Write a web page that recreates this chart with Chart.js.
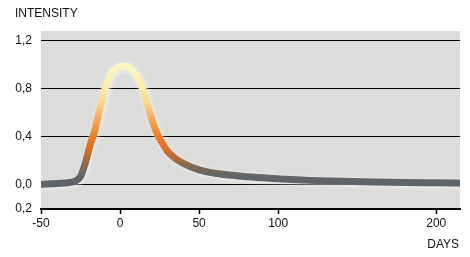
<!DOCTYPE html>
<html><head><meta charset="utf-8">
<script src="https://cdn.jsdelivr.net/npm/chart.js@4/dist/chart.umd.min.js"></script>
<style>html,body{margin:0;padding:0;background:#fff}#wrap{width:470px;height:257px;position:relative}</style>
</head><body><div id="wrap"><canvas id="c" width="470" height="257"></canvas></div>
<script>
const days = [-50,-40,-32,-28,-25,-22,-19,-16,-13,-10,-7,-4,0,3,6,9,12,15,18,21,24,27,30,35,40,50,60,75,90,105,120,140,160,180,200,215];
const intensity = [0.005,0.012,0.02,0.035,0.07,0.18,0.33,0.45,0.62,0.78,0.89,0.955,0.985,0.99,0.975,0.93,0.88,0.77,0.64,0.51,0.41,0.34,0.28,0.22,0.18,0.125,0.097,0.075,0.06,0.047,0.038,0.03,0.024,0.02,0.018,0.016];
const xTicks = [-50,0,50,100,200];
const yTicks = [-0.2,0,0.4,0.8,1.2];
const yLabels = {"-0.2":"0,2","0":"0,0","0.4":"0,4","0.8":"0,8","1.2":"1,2"};
const yTitle = "INTENSITY";
const xTitle = "DAYS";

const FONT = "'Liberation Sans', Arial, sans-serif";

const bgPlugin = {
  id:'bg',
  beforeDraw(chart){
    const {ctx, chartArea:a} = chart;
    ctx.save();
    ctx.fillStyle = '#dcdddb';
    ctx.fillRect(a.left, a.top, a.right-a.left, a.bottom-a.top);
    ctx.restore();
  },
  beforeDatasetDraw(chart){
    chart.ctx.save();
    chart.ctx.shadowColor = 'rgba(255,255,255,0.7)';
    chart.ctx.shadowBlur = 4;
    chart.ctx.shadowOffsetX = 1;
    chart.ctx.shadowOffsetY = 1;
  },
  afterDatasetDraw(chart){ chart.ctx.restore(); },
  afterDraw(chart){
    const ctx = chart.ctx;
    ctx.save();
    ctx.fillStyle = '#111';
    ctx.font = '12px ' + FONT;
    ctx.textBaseline = 'middle';
    ctx.textAlign = 'left';
    ctx.fillText(yTitle, 15, 14);
    ctx.textAlign = 'right';
    ctx.fillText(xTitle, 459, 245);
    ctx.restore();
  }
};

function grad(context){
  const chart = context.chart;
  const {ctx, chartArea} = chart;
  if(!chartArea) return '#5f676c';
  const y = chart.scales.y;
  const g = ctx.createLinearGradient(0, y.getPixelForValue(0), 0, y.getPixelForValue(1));
  g.addColorStop(0.0, '#5c656b');
  g.addColorStop(0.07, '#60666a');
  g.addColorStop(0.17, '#8a6a4c');
  g.addColorStop(0.3, '#dc7028');
  g.addColorStop(0.4, '#ef7d24');
  g.addColorStop(0.55, '#f4aa5c');
  g.addColorStop(0.68, '#f8d690');
  g.addColorStop(0.82, '#fbeeac');
  g.addColorStop(1.0, '#fcf5c4');
  return g;
}

new Chart(document.getElementById('c'), {
  type:'line',
  data:{ datasets:[{
    data: days.map((d,i)=>({x:d, y:intensity[i]})),
    borderColor: grad,
    borderWidth: 7,
    pointRadius: 0,
    cubicInterpolationMode: 'monotone',
    borderCapStyle: 'butt',
    fill:false
  }]},
  options:{
    responsive:false,
    animation:false,
    devicePixelRatio:1,
    layout:{padding:{top:31,right:10,left:0,bottom:0}},
    plugins:{legend:{display:false},tooltip:{enabled:false}},
    scales:{
      x:{
        type:'linear', min:-50, max:215,
        afterBuildTicks(s){ s.ticks = xTicks.map(v=>({value:v})); },
        afterFit(s){ s.height = 48; },
        border:{display:true, color:'#000', width:2},
        grid:{drawOnChartArea:false, drawTicks:true, tickLength:5, tickColor:'#000', tickWidth:1.5},
        ticks:{color:'#111', font:{family:FONT, size:12}, padding:2, maxRotation:0, autoSkip:false}
      },
      y:{
        min:-0.2, max:1.28,
        afterBuildTicks(s){ s.ticks = yTicks.map(v=>({value:v})); },
        afterFit(s){ s.width = 41; },
        border:{display:false},
        grid:{color:'#000', lineWidth:1, drawTicks:false},
        ticks:{color:'#111', font:{family:FONT, size:12}, padding:9,
          callback:(v)=> yLabels[String(Math.round(v*10)/10)] }
      }
    }
  },
  plugins:[bgPlugin]
});
</script></body></html>
